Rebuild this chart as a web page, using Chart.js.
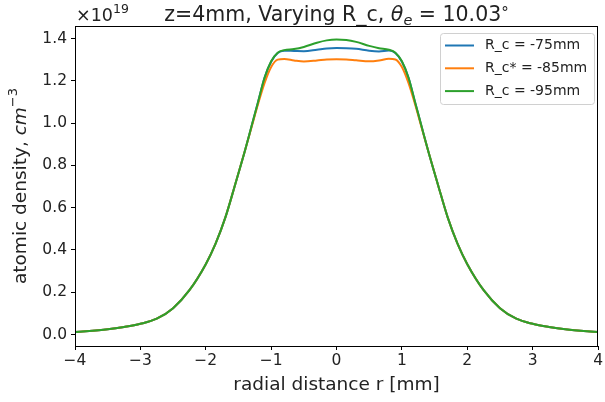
<!DOCTYPE html>
<html>
<head>
<meta charset="utf-8">
<script src="https://cdn.jsdelivr.net/npm/chart.js@4.4.1/dist/chart.umd.min.js"></script>
<style>
  html, body { margin: 0; padding: 0; background: #fff; }
  #wrap { width: 605px; height: 402px; }
</style>
</head>
<body>
<div id="wrap"><canvas id="densityChart" width="605" height="402"></canvas></div>
<script>
// radial distance r [mm]
const radius = [-4, -3.5, -3.25, -3, -2.75, -2.5, -2.25, -2, -1.85, -1.7, -1.55, -1.4, -1.3, -1.2, -1.1, -1, -0.9, -0.8, -0.65, -0.5, -0.3, -0.15, 0,
  0.15, 0.3, 0.5, 0.65, 0.8, 0.9, 1, 1.1, 1.2, 1.3, 1.4, 1.55, 1.7, 1.85, 2, 2.25, 2.5, 2.75, 3, 3.25, 3.5, 4];

// atomic density in units of 1e19 cm^-3
const rc75 = [0.012, 0.025, 0.036, 0.051, 0.075, 0.125, 0.21, 0.333, 0.43, 0.554, 0.71, 0.87, 0.985, 1.10, 1.215, 1.29, 1.331, 1.342, 1.341, 1.340, 1.347, 1.353, 1.355,
  1.354, 1.351, 1.342, 1.339, 1.343, 1.331, 1.29, 1.215, 1.10, 0.985, 0.87, 0.71, 0.554, 0.43, 0.333, 0.21, 0.125, 0.075, 0.051, 0.036, 0.025, 0.012];
const rc85 = [0.012, 0.025, 0.036, 0.051, 0.075, 0.125, 0.21, 0.333, 0.43, 0.554, 0.71, 0.87, 0.98, 1.09, 1.19, 1.265, 1.300, 1.303, 1.296, 1.291, 1.296, 1.301, 1.302,
  1.301, 1.297, 1.292, 1.296, 1.304, 1.301, 1.265, 1.19, 1.09, 0.98, 0.87, 0.71, 0.554, 0.43, 0.333, 0.21, 0.125, 0.075, 0.051, 0.036, 0.025, 0.012];
const rc95 = [0.012, 0.025, 0.036, 0.051, 0.075, 0.125, 0.21, 0.333, 0.43, 0.554, 0.71, 0.87, 0.985, 1.10, 1.215, 1.292, 1.333, 1.345, 1.350, 1.360, 1.380, 1.391, 1.395,
  1.393, 1.384, 1.365, 1.354, 1.347, 1.333, 1.292, 1.215, 1.10, 0.985, 0.87, 0.71, 0.554, 0.43, 0.333, 0.21, 0.125, 0.075, 0.051, 0.036, 0.025, 0.012];

const seriesLabels = ['R_c = -75mm', 'R_c* = -85mm', 'R_c = -95mm'];
const seriesColors = ['#1f77b4', '#ff7f0e', '#2ca02c'];

const xTicks = [-4, -3, -2, -1, 0, 1, 2, 3, 4];
const yTicks = [0.0, 0.2, 0.4, 0.6, 0.8, 1.0, 1.2, 1.4];

const FONT = '"DejaVu Sans", sans-serif';

function pts(ys) {
  return radius.map((r, i) => ({ x: r, y: ys[i] }));
}

// draw a run of text pieces: [text, size, italic, dy]
function drawRuns(ctx, runs, x, y, align) {
  let total = 0;
  runs.forEach(r => {
    ctx.font = (r[2] ? 'italic ' : '') + r[1] + 'px ' + FONT;
    total += ctx.measureText(r[0]).width;
  });
  let cx = align === 'center' ? x - total / 2 : x;
  ctx.textAlign = 'left';
  runs.forEach(r => {
    ctx.font = (r[2] ? 'italic ' : '') + r[1] + 'px ' + FONT;
    ctx.fillText(r[0], cx, y + (r[3] || 0));
    cx += ctx.measureText(r[0]).width;
  });
}

const decorations = {
  id: 'decorations',
  afterDraw(chart) {
    const ctx = chart.ctx;
    const a = chart.chartArea;
    ctx.save();

    // frame
    ctx.strokeStyle = '#000';
    ctx.lineWidth = 1;
    ctx.strokeRect(Math.round(a.left) + 0.5, Math.round(a.top) + 0.5, Math.round(a.right - a.left) - 1, Math.round(a.bottom - a.top));

    ctx.fillStyle = '#222';
    ctx.textBaseline = 'alphabetic';

    // title
    drawRuns(ctx, [
      ['z=4mm, Varying R_c, ', 20.5, false],
      ['θ', 20.5, true],
      ['e', 14.5, true, 4],
      [' = 10.03', 20.5, false],
      ['°', 15, false, -3]
    ], (a.left + a.right) / 2, 21, 'center');

    // offset text
    drawRuns(ctx, [['×10', 17.5, false], ['19', 12.5, false, -8]], a.left + 1, 21, 'left');

    // x label
    drawRuns(ctx, [['radial distance r [mm]', 18.5, false]], (a.left + a.right) / 2, 390, 'center');

    // y label
    ctx.save();
    ctx.translate(26, (a.top + a.bottom) / 2);
    ctx.rotate(-Math.PI / 2);
    drawRuns(ctx, [['atomic density, ', 18.5, false], ['cm', 18.5, true], ['−3', 13, false, -9]], 0, 0, 'center');
    ctx.restore();

    // legend
    const lx = 440, ly = 33, lw = 154, lh = 71;
    ctx.beginPath();
    ctx.roundRect(lx + 0.5, ly + 0.5, lw, lh, 3);
    ctx.fillStyle = 'rgba(255,255,255,0.8)';
    ctx.fill();
    ctx.strokeStyle = '#d0d0d0';
    ctx.stroke();
    ctx.font = '14px ' + FONT;
    ctx.textBaseline = 'middle';
    seriesLabels.forEach((label, i) => {
      const yy = 45.5 + i * 22.8;
      ctx.strokeStyle = seriesColors[i];
      ctx.lineWidth = 2;
      ctx.beginPath();
      ctx.moveTo(445, yy);
      ctx.lineTo(474, yy);
      ctx.stroke();
      ctx.fillStyle = '#222';
      ctx.fillText(label, 485, yy);
    });

    ctx.restore();
  }
};

const datasets = [rc75, rc85, rc95].map((ys, i) => ({
  label: seriesLabels[i],
  data: pts(ys),
  borderColor: seriesColors[i],
  backgroundColor: seriesColors[i],
  borderWidth: 2,
  pointRadius: 0,
  cubicInterpolationMode: 'monotone',
  order: 2 - i
}));

new Chart(document.getElementById('densityChart'), {
  type: 'line',
  data: { datasets },
  options: {
    responsive: false,
    animation: false,
    layout: { padding: { left: 0, right: 5, top: 26, bottom: 0 } },
    plugins: {
      legend: { display: false },
      title: { display: false },
      tooltip: { enabled: false }
    },
    scales: {
      x: {
        type: 'linear',
        min: -4,
        max: 4,
        afterBuildTicks: s => { s.ticks = xTicks.map(v => ({ value: v })); },
        afterFit: s => { s.height = 56; },
        grid: { drawOnChartArea: false, color: '#000', tickLength: 4 },
        border: { color: '#000' },
        ticks: {
          color: '#222',
          font: { family: FONT, size: 15.5 },
          padding: 2,
          maxRotation: 0,
          callback: v => String(v).replace('-', '\u2212')
        }
      },
      y: {
        type: 'linear',
        min: -0.054,
        max: 1.459,
        afterBuildTicks: s => { s.ticks = yTicks.map(v => ({ value: v })); },
        afterFit: s => { s.width = 75; },
        grid: { drawOnChartArea: false, color: '#000', tickLength: 4 },
        border: { color: '#000' },
        ticks: {
          color: '#222',
          font: { family: FONT, size: 15.5 },
          padding: 4,
          callback: v => v.toFixed(1)
        }
      }
    }
  },
  plugins: [decorations]
});
</script>
</body>
</html>
